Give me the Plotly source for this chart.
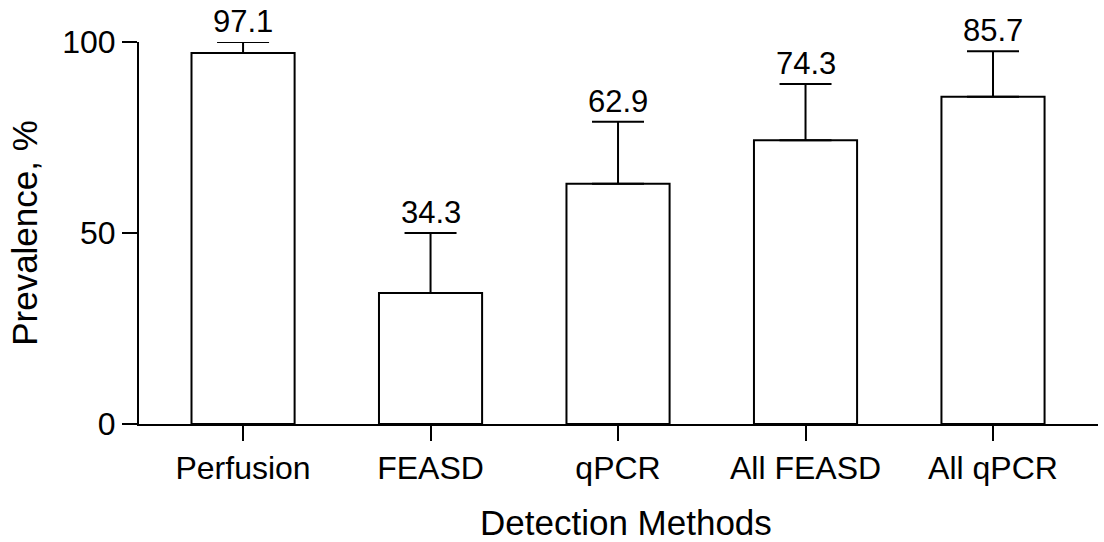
import plotly.graph_objects as go

categories = ["Perfusion", "FEASD", "qPCR", "All FEASD", "All qPCR"]
prevalence = [97.1, 34.3, 62.9, 74.3, 85.7]
error_plus = [2.9, 15.7, 16.2, 14.7, 11.9]
value_labels = ["97.1", "34.3", "62.9", "74.3", "85.7"]
y_ticks = [0, 50, 100]

FONT = "Liberation Sans, Arial, sans-serif"

fig = go.Figure()
fig.add_trace(go.Bar(
    x=categories,
    y=prevalence,
    width=0.55,
    marker=dict(color="white", line=dict(color="black", width=2)),
    error_y=dict(
        type="data",
        symmetric=False,
        array=error_plus,
        arrayminus=[0] * len(error_plus),
        color="black",
        thickness=2,
        width=26,
    ),
    showlegend=False,
    cliponaxis=False,
))

for cat, val, err, lab in zip(categories, prevalence, error_plus, value_labels):
    fig.add_annotation(
        x=cat, y=val + err, text=lab, showarrow=False,
        yanchor="bottom", yshift=1,
        font=dict(family=FONT, size=31, color="black"),
    )

fig.add_annotation(
    xref="paper", yref="paper", x=0.508, y=-0.204,
    xanchor="center", yanchor="top", showarrow=False,
    text="Detection Methods", borderpad=0,
    font=dict(family=FONT, size=35, color="black"),
)

fig.update_layout(
    width=1104, height=542,
    margin=dict(l=139, r=6, t=42, b=118),
    plot_bgcolor="white", paper_bgcolor="white",
    font=dict(family=FONT, size=31, color="black"),
)
fig.update_xaxes(
    type="category",
    range=[-0.555, 4.56],
    showline=True, linecolor="black", linewidth=2,
    ticks="outside", ticklen=15, tickwidth=2, tickcolor="black",
    showgrid=False, zeroline=False,
    tickfont=dict(family=FONT, size=32),
)
fig.update_yaxes(
    range=[0, 100],
    tickvals=y_ticks,
    showline=True, linecolor="black", linewidth=2,
    ticks="outside", ticklen=15, tickwidth=2, tickcolor="black",
    showgrid=False, zeroline=False,
    tickfont=dict(family=FONT, size=32),
    title=dict(text="Prevalence, %", font=dict(family=FONT, size=35), standoff=14),
)

fig.write_html("out.html")
